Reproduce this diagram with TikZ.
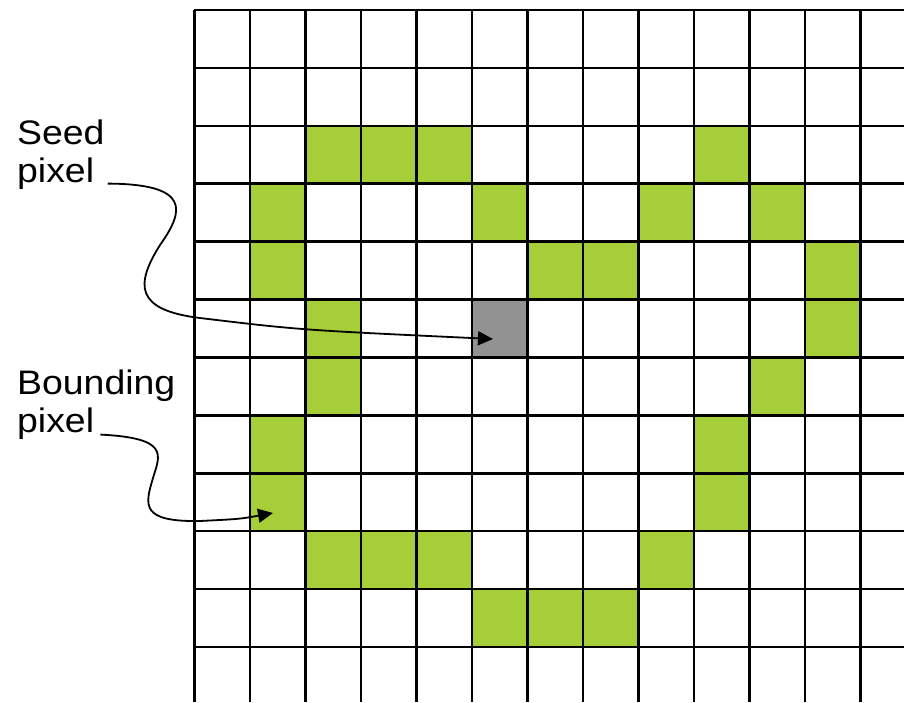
\documentclass[tikz,border=0pt]{standalone}
\usepackage{fontspec}
\setmainfont{Liberation Sans}[FakeStretch=1.1]
\usepackage{xcolor}
\usepackage{tikz}
\usetikzlibrary{arrows.meta,positioning,calc}

\definecolor{boundgreen}{RGB}{166,206,57}
\definecolor{seedgray}{RGB}{146,146,146}

\begin{document}
\begin{tikzpicture}[x=1pt, y=-1pt, every node/.style={font=\fontsize{34}{37.5}\selectfont}]
  \useasboundingbox (0,0) rectangle (904,702);
  \def\gx{194.3} \def\gy{10} \def\cw{55.5} \def\ch{57.9}

  % bounding pixels
  \foreach \c/\r in {2/2,3/2,4/2,9/2, 1/3,5/3,8/3,10/3, 1/4,6/4,7/4,11/4,
                     2/5,11/5, 2/6,10/6, 1/7,9/7, 1/8,9/8,
                     2/9,3/9,4/9,8/9, 5/10,6/10,7/10}
    \fill[boundgreen] ({\gx+\c*\cw},{\gy+\r*\ch}) rectangle ++(\cw,\ch);

  % seed pixel
  \node[fill=seedgray,minimum width=\cw pt,minimum height=\ch pt,inner sep=0] (seedpx)
    at ({\gx+5.5*\cw},{\gy+5.5*\ch}) {};

  % grid
  \foreach \k in {0,...,12}
    \draw[line width=2.6pt] ({\gx+\k*\cw},\gy) -- ({\gx+\k*\cw},702);
  \foreach \k in {0,...,11}
    \draw[line width=2.6pt] (\gx,{\gy+\k*\ch}) -- (904,{\gy+\k*\ch});

  % labels
  \node[align=left,anchor=north west,inner sep=0] (seedlbl) at (17,120) {Seed\\pixel};
  \node[align=left,anchor=north west,inner sep=0] (boundlbl) at (17,370) {Bounding\\pixel};

  \coordinate (seedtip) at (493,339);
  \coordinate (boundtip) at (273,513);

  \draw[-{Triangle[length=15pt,width=14pt]},line width=1.8pt]
    ([shift={(3,-6)}]seedlbl.south east) .. controls (190,184) and (185,210) .. (160,245)
    .. controls (135,285) and (135,310) .. (200,318) .. controls (300,330) .. (seedtip);
  \draw[-{Triangle[length=15pt,width=14pt]},line width=1.8pt]
    ([shift={(-75,-5)}]boundlbl.south east) .. controls (170,438) and (160,455) .. (153,478)
    .. controls (145,505) and (140,522) .. (200,521) .. controls (240,519) .. (boundtip);
\end{tikzpicture}
\end{document}
